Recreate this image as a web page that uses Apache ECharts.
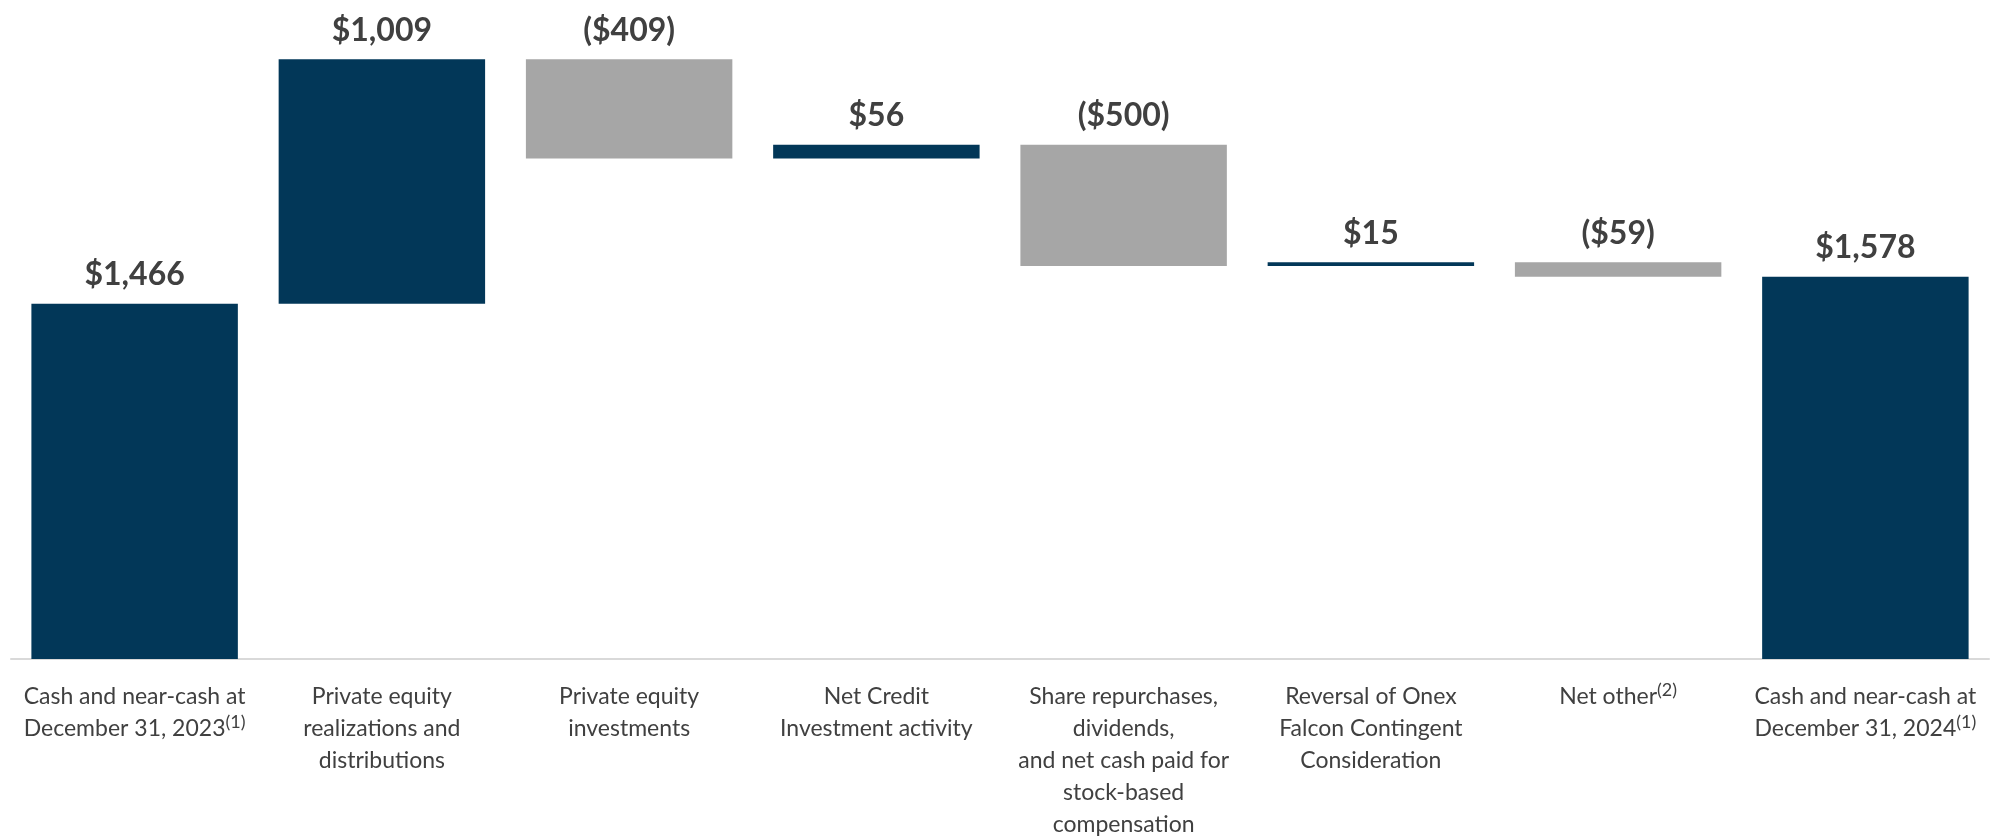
<!DOCTYPE html>
<html>
<head>
<meta charset="utf-8">
<script src="https://cdn.jsdelivr.net/npm/echarts@6/dist/echarts.min.js"></script>
<style>
  html, body { margin: 0; padding: 0; background: #ffffff; }
  #chart { width: 2003px; height: 837px; }
</style>
</head>
<body>
<div id="chart"></div>
<script>
// ---- Data ----
const categories = [
  'Cash and near-cash at\nDecember 31, 2023',
  'Private equity\nrealizations and\ndistributions',
  'Private equity\ninvestments',
  'Net Credit\nInvestment activity',
  'Share repurchases,\ndividends,\nand net cash paid for\nstock-based\ncompensation',
  'Reversal of Onex\nFalcon Contingent\nConsideration',
  'Net other',
  'Cash and near-cash at\nDecember 31, 2024'
];
const footnotes = ['(1)', '', '', '', '', '', '(2)', '(1)'];
const startValue = 1466;
const changes = [1009, -409, 56, -500, 15, -59];
const endValue = 1578;

// ---- Build waterfall from data ----
const NAVY = '#023758';
const GRAY = '#a6a6a6';
const signedValues = [startValue].concat(changes).concat([endValue]);
const bases = [];
const heights = [];
const isTotal = [];
let running = 0;
signedValues.forEach(function (v, i) {
  const total = (i === 0 || i === signedValues.length - 1);
  isTotal.push(total);
  if (total) {
    bases.push(0);
    heights.push(v);
    running = v;
  } else {
    bases.push(v >= 0 ? running : running + v);
    heights.push(Math.abs(v));
    running += v;
  }
});

function fmtMoney(v) {
  const s = '$' + Math.abs(v).toLocaleString('en-US');
  return v < 0 ? '(' + s + ')' : s;
}

const chart = echarts.init(document.getElementById('chart'), null, { renderer: 'canvas' });
chart.setOption({
  backgroundColor: '#ffffff',
  animation: false,
  grid: { left: 11, right: 14, top: 29, bottom: 178, containLabel: false, outerBoundsMode: 'none' },
  xAxis: {
    type: 'category',
    data: categories,
    axisLine: { show: true, lineStyle: { color: '#d9d9d9', width: 2 } },
    axisTick: { show: false },
    axisLabel: {
      interval: 0,
      margin: 22,
      color: '#404040',
      fontFamily: 'Lato',
      fontSize: 23,
      lineHeight: 32,
      align: 'center',
      formatter: function (value, idx) {
        const fn = footnotes[idx];
        return fn ? value + '{sup|' + fn + '}' : value;
      },
      rich: {
        sup: { fontFamily: 'Lato', fontSize: 18, lineHeight: 14, verticalAlign: 'top', color: '#404040' }
      }
    }
  },
  yAxis: {
    type: 'value',
    min: 0,
    max: 2600,
    show: false,
    splitLine: { show: false }
  },
  series: [
    {
      type: 'bar',
      stack: 'wf',
      silent: true,
      barCategoryGap: '16.5%',
      itemStyle: { color: 'transparent' },
      data: bases
    },
    {
      type: 'bar',
      stack: 'wf',
      barCategoryGap: '16.5%',
      data: heights.map(function (h, i) {
        return {
          value: h,
          itemStyle: { color: (isTotal[i] || signedValues[i] >= 0) ? NAVY : GRAY }
        };
      }),
      label: {
        show: true,
        position: 'top',
        distance: 13,
        color: '#404040',
        fontFamily: 'Lato',
        fontWeight: 'bold',
        fontSize: 32,
        formatter: function (p) { return fmtMoney(signedValues[p.dataIndex]); }
      }
    }
  ]
});
</script>
</body>
</html>
